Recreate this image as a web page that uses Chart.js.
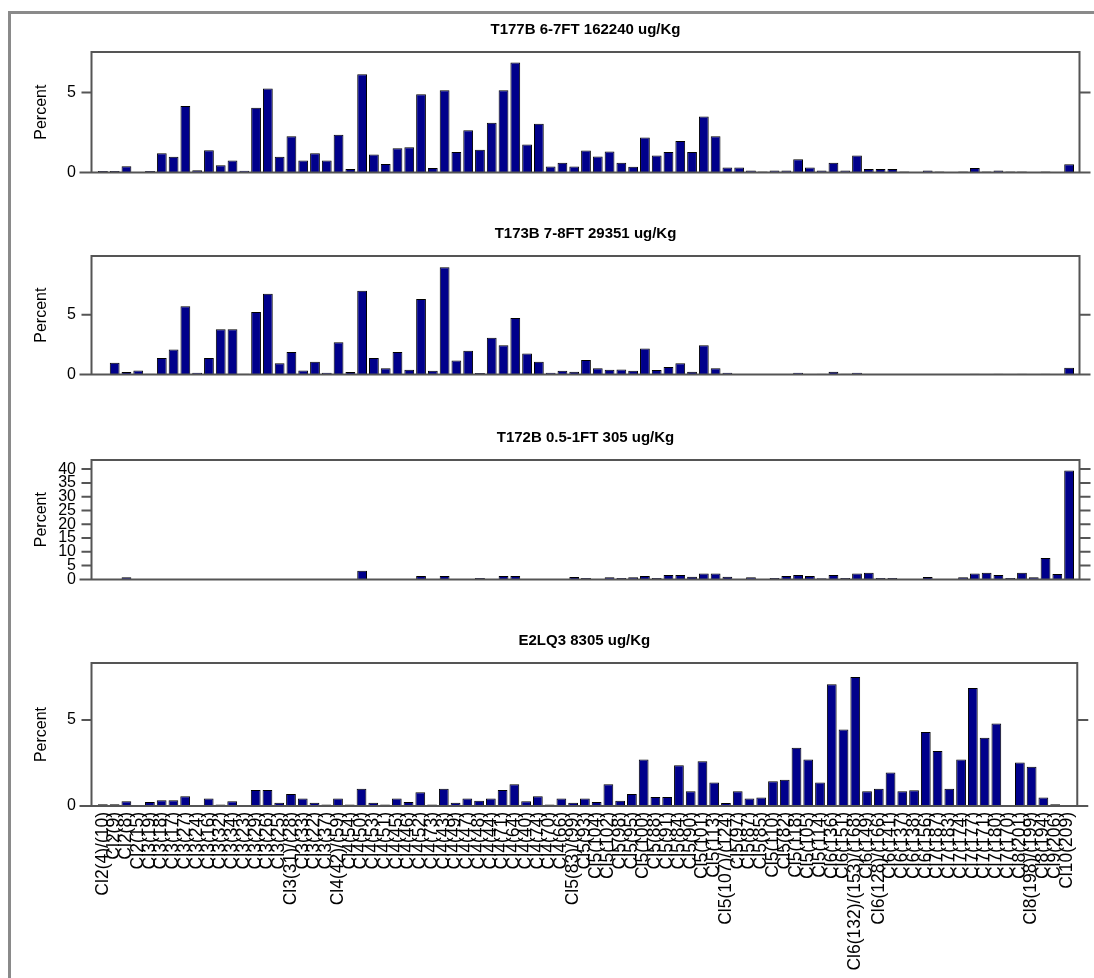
<!DOCTYPE html>
<html>
<head>
<meta charset="utf-8">
<script src="https://cdn.jsdelivr.net/npm/chart.js@4.4.1/dist/chart.umd.min.js"></script>
<style>
  body { margin: 0; background: #fff; }
  #page { position: relative; width: 1094px; height: 978px; overflow: hidden; background: #fff; }
  #edge { position: absolute; left: 8px; top: 11px; width: 1200px; height: 1200px;
          border-top: 3px solid #8a8a8a; border-left: 3px solid #8a8a8a; }
  canvas { position: absolute; left: 0; }
</style>
</head>
<body>
<div id="page">
  <div id="edge"></div>
  <canvas id="c1" width="1094" height="203" style="top:0px"></canvas>
  <canvas id="c2" width="1094" height="201" style="top:204px"></canvas>
  <canvas id="c3" width="1094" height="202" style="top:408px"></canvas>
  <canvas id="c4" width="1094" height="367" style="top:611px"></canvas>
</div>
<script>
// congener labels (x axis)
const congeners = [
  'Cl2(4)/(10)', 'Cl2(9)', 'Cl2(8)', 'Cl2(15)', 'Cl3(19)', 'Cl3(18)', 'Cl3(17)', 'Cl3(27)',
  'Cl3(24)', 'Cl3(16)', 'Cl3(32)', 'Cl3(34)', 'Cl3(23)', 'Cl3(29)', 'Cl3(26)', 'Cl3(25)',
  'Cl3(31)/(28)', 'Cl3(33)', 'Cl3(22)', 'Cl3(37)', 'Cl4(42)/(59)', 'Cl4(54)', 'Cl4(50)', 'Cl4(53)',
  'Cl4(51)', 'Cl4(45)', 'Cl4(46)', 'Cl4(52)', 'Cl4(73)', 'Cl4(43)', 'Cl4(49)', 'Cl4(47)',
  'Cl4(48)', 'Cl4(44)', 'Cl4(71)', 'Cl4(64)', 'Cl4(40)', 'Cl4(74)', 'Cl4(70)', 'Cl4(66)',
  'Cl5(83)/(99)', 'Cl5(93)', 'Cl5(104)', 'Cl5(102)', 'Cl5(98)', 'Cl5(95)', 'Cl5(100)', 'Cl5(88)',
  'Cl5(91)', 'Cl5(84)', 'Cl5(90)', 'Cl5(101)', 'Cl5(113)', 'Cl5(107)/(124)', 'Cl5(97)', 'Cl5(87)',
  'Cl5(85)', 'Cl5(110)', 'Cl5(82)', 'Cl5(118)', 'Cl5(105)', 'Cl5(114)', 'Cl6(136)', 'Cl6(151)',
  'Cl6(132)/(153)/(168)', 'Cl6(149)', 'Cl6(128)/(166)', 'Cl6(141)', 'Cl6(137)', 'Cl6(138)', 'Cl6(156)', 'Cl7(187)',
  'Cl7(183)', 'Cl7(174)', 'Cl7(177)', 'Cl7(171)', 'Cl7(180)', 'Cl7(170)', 'Cl8(201)', 'Cl8(198)/(199)',
  'Cl8(194)', 'Cl9(206)', 'Cl10(209)'
];

// percent of total, one array per sample
const t177b = [
  0.09, 0.09, 0.39, 0, 0.09, 1.19, 0.98, 4.16, 0.14, 1.39, 0.44, 0.75, 0.1, 4.04, 5.25, 0.98,
  2.26, 0.75, 1.19, 0.75, 2.35, 0.21, 6.14, 1.12, 0.53, 1.51, 1.58, 4.88, 0.28, 5.14, 1.28, 2.63,
  1.42, 3.1, 5.14, 6.88, 1.74, 3.04, 0.37, 0.61, 0.37, 1.37, 1.0, 1.3, 0.61, 0.35, 2.18, 1.05,
  1.28, 1.96, 1.28, 3.49, 2.26, 0.3, 0.3, 0.12, 0.05, 0.12, 0.12, 0.82, 0.3, 0.12, 0.6, 0.12,
  1.05, 0.21, 0.21, 0.21, 0.05, 0, 0.12, 0.05, 0, 0.05, 0.28, 0.05, 0.12, 0.05, 0.05, 0,
  0.05, 0, 0.51
];
const t173b = [
  0, 0.98, 0.21, 0.33, 0.05, 1.38, 2.08, 5.72, 0.14, 1.38, 3.79, 3.79, 0.05, 5.23, 6.75, 0.93,
  1.87, 0.33, 1.05, 0.14, 2.69, 0.21, 7.0, 1.38, 0.51, 1.87, 0.4, 6.31, 0.3, 8.97, 1.17, 1.99,
  0.12, 3.08, 2.45, 4.72, 1.75, 1.05, 0.14, 0.3, 0.23, 1.21, 0.51, 0.4, 0.42, 0.3, 2.17, 0.37,
  0.63, 0.93, 0.23, 2.45, 0.51, 0.14, 0, 0, 0, 0.03, 0, 0.14, 0, 0.05, 0.23, 0.05,
  0.14, 0, 0, 0, 0, 0, 0, 0, 0, 0, 0.05, 0, 0.05, 0, 0.05, 0,
  0.05, 0, 0.56
];
const t172b = [
  0, 0, 0.8, 0, 0, 0, 0, 0, 0, 0, 0, 0, 0, 0, 0, 0,
  0, 0, 0, 0, 0, 0, 3.1, 0, 0, 0, 0, 1.2, 0, 1.2, 0, 0,
  0.5, 0, 1.2, 1.2, 0, 0, 0, 0, 0.9, 0.5, 0, 0.8, 0.5, 0.8, 1.2, 0.5,
  1.6, 1.6, 1.0, 2.1, 2.1, 1.0, 0, 0.8, 0, 0.5, 1.2, 1.6, 1.2, 0.4, 1.6, 0.5,
  2.1, 2.4, 0.5, 0.5, 0, 0, 0.9, 0, 0, 0.8, 2.1, 2.4, 1.6, 0.5, 2.4, 0.8,
  7.8, 2.0, 39.5
];
const e2lq3 = [
  0.1, 0.1, 0.27, 0, 0.23, 0.33, 0.33, 0.56, 0, 0.43, 0.08, 0.27, 0, 0.93, 0.93, 0.19,
  0.7, 0.43, 0.19, 0.08, 0.43, 0.08, 1.0, 0.19, 0.08, 0.43, 0.23, 0.8, 0.08, 1.0, 0.19, 0.43,
  0.31, 0.43, 0.93, 1.26, 0.27, 0.56, 0.08, 0.43, 0.19, 0.43, 0.23, 1.26, 0.31, 0.7, 2.7, 0.53,
  0.53, 2.37, 0.86, 2.6, 1.36, 0.18, 0.86, 0.43, 0.49, 1.44, 1.52, 3.39, 2.7, 1.36, 7.08, 4.44,
  7.5, 0.86, 1.0, 1.95, 0.86, 0.91, 4.3, 3.2, 1.0, 2.7, 6.85, 3.97, 4.8, 0, 2.53, 2.28,
  0.5, 0.1, 0
];

const titles = ['T177B 6-7FT 162240 ug/Kg', 'T173B 7-8FT 29351 ug/Kg', 'T172B 0.5-1FT 305 ug/Kg', 'E2LQ3 8305 ug/Kg'];
const yMax = [7.53, 9.92, 43.3, 8.31];

Chart.defaults.font.family = '"Liberation Sans", Arial, sans-serif';
Chart.defaults.color = '#000';

// box around the plot, tick marks on both sides, panel title
const framePlugin = {
  id: 'frame',
  afterDraw(chart, args, opts) {
    const ctx = chart.ctx;
    const a = chart.chartArea;
    const y = chart.scales.y;
    const L = a.left - 5.5, R = a.right + 4.5;
    ctx.save();
    ctx.strokeStyle = '#555';
    ctx.lineWidth = 2;
    ctx.beginPath();
    ctx.moveTo(L, a.bottom); ctx.lineTo(L, a.top); ctx.lineTo(R, a.top); ctx.lineTo(R, a.bottom);
    ctx.moveTo(L - 12, a.bottom); ctx.lineTo(R + 11, a.bottom);
    y.ticks.forEach(function(t) {
      const py = y.getPixelForValue(t.value);
      ctx.moveTo(L - 10, py); ctx.lineTo(L, py);
      ctx.moveTo(R, py); ctx.lineTo(R + 11, py);
    });
    ctx.stroke();
    ctx.fillStyle = '#000';
    ctx.font = 'bold 15px "Liberation Sans", Arial, sans-serif';
    ctx.textAlign = 'center';
    ctx.textBaseline = 'middle';
    ctx.fillText(opts.title, (L + R) / 2, a.top - 22);
    ctx.restore();
  }
};

function makeChart(id, values, title, ymax, showLabels) {
  return new Chart(document.getElementById(id), {
    type: 'bar',
    data: {
      labels: congeners,
      datasets: [{
        data: values,
        backgroundColor: '#00008b',
        borderColor: '#000',
        borderWidth: 1,
        barPercentage: 0.83,
        categoryPercentage: 1
      }]
    },
    options: {
      responsive: false,
      animation: false,
      layout: { padding: { top: 52, right: 19, bottom: showLabels ? 0 : 8, left: 0 } },
      plugins: { legend: { display: false }, tooltip: { enabled: false }, frame: { title: title } },
      scales: {
        x: {
          display: showLabels,
          grid: { display: false, drawTicks: false },
          border: { display: false },
          ticks: { autoSkip: false, maxRotation: 90, minRotation: 90, padding: 6, font: { size: 17.5 } },
          afterFit: function(s) { s.height = showLabels ? 172 : 0; }
        },
        y: {
          min: 0,
          max: ymax,
          grid: { display: false, drawTicks: false },
          border: { display: false },
          ticks: { stepSize: 5, autoSkip: false, padding: 21, font: { size: 16 } },
          // ticks every 5 up to the axis top, like the original
          afterBuildTicks: function(s) {
            const t = [];
            for (let v = 0; v <= s.max; v += 5) t.push({ value: v });
            s.ticks = t;
          },
          title: { display: true, text: 'Percent', font: { size: 16 }, padding: { top: 32, bottom: 0 } },
          afterFit: function(s) { s.width = 97; }
        }
      }
    },
    plugins: [framePlugin]
  });
}

makeChart('c1', t177b, titles[0], yMax[0], false);
makeChart('c2', t173b, titles[1], yMax[1], false);
makeChart('c3', t172b, titles[2], yMax[2], false);
makeChart('c4', e2lq3, titles[3], yMax[3], true);
</script>
</body>
</html>
